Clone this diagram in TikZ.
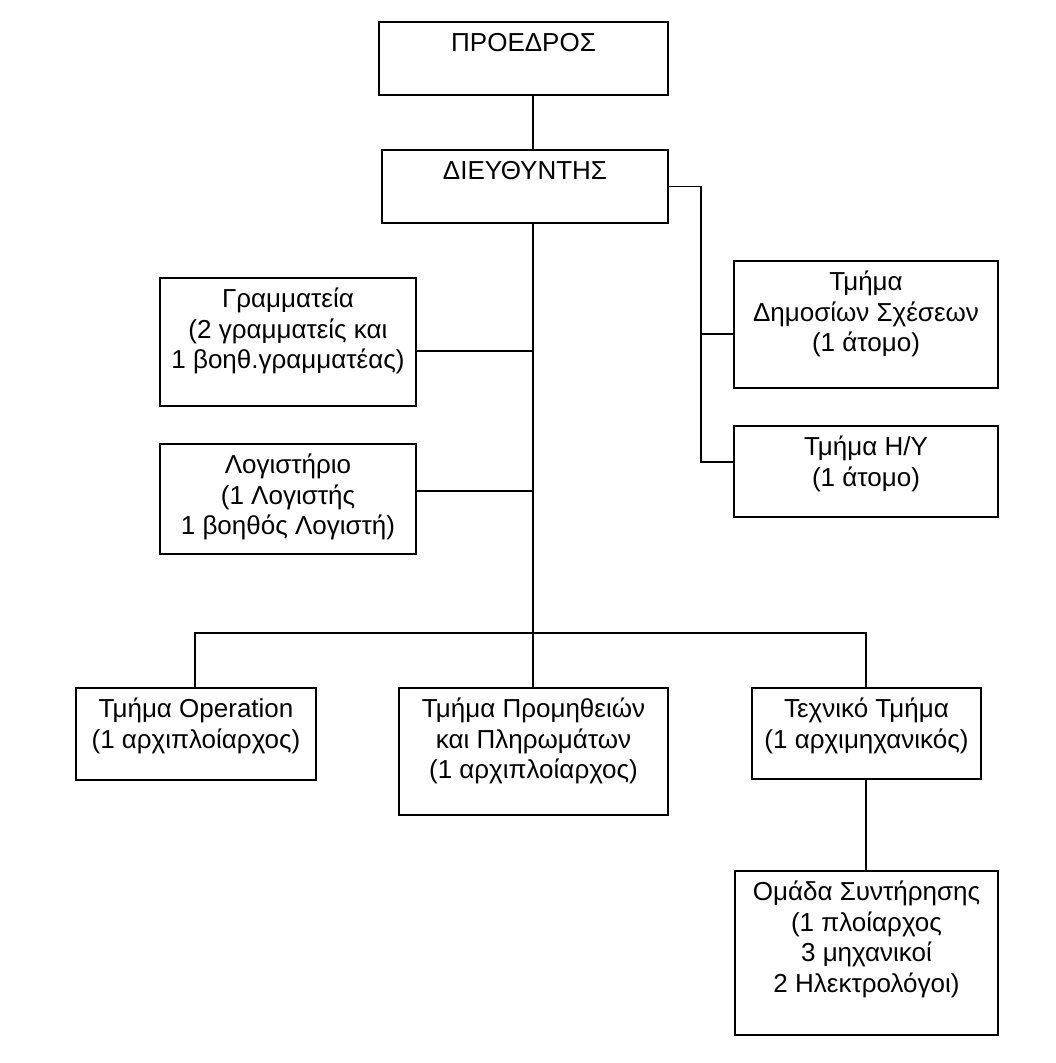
\documentclass[tikz,border=0pt]{standalone}
\usepackage{fontspec}
\setmainfont{Liberation Sans}
\begin{document}
\begin{tikzpicture}[x=1pt,y=-1pt,
  box/.style={draw, line width=1.5pt, inner sep=0pt, outer sep=0pt},
  lbl/.style={anchor=north, inner sep=0pt, align=center, font=\fontsize{26}{30.5}\selectfont, yshift=-8pt},
  conn/.style={line width=1.5pt}]
\useasboundingbox[fill=white] (0,0) rectangle (1056,1063);
% boxes
\node[box, minimum width=289pt, minimum height=73pt] (P) at (523.5,58.5) {};
\node[box, minimum width=286pt, minimum height=73pt] (D) at (525,186.5) {};
\node[box, minimum width=256pt, minimum height=128pt] (G) at (288,342) {};
\node[box, minimum width=256pt, minimum height=110pt] (L) at (288,499) {};
\node[box, minimum width=264pt, minimum height=127pt] (DS) at (866,324.5) {};
\node[box, minimum width=264pt, minimum height=91pt] (HY) at (866,471.5) {};
\node[box, minimum width=240pt, minimum height=92pt] (OP) at (196,734) {};
\node[box, minimum width=269pt, minimum height=127pt] (PR) at (533.5,751.5) {};
\node[box, minimum width=229pt, minimum height=91pt] (T) at (866.5,733.5) {};
\node[box, minimum width=263pt, minimum height=164pt] (OM) at (866.5,953) {};
% labels
\node[lbl] (Pt) at (P.north) {\strut ΠΡΟΕΔΡΟΣ};
\node[lbl] (Dt) at (D.north) {\strut ΔΙΕΥΘΥΝΤΗΣ};
\node[lbl] (Gt) at (G.north) {\strut Γραμματεία\\(2 γραμματείς και\\1 βοηθ.γραμματέας)};
\node[lbl] (Lt) at (L.north) {\strut Λογιστήριο\\(1 Λογιστής\\1 βοηθός Λογιστή)};
\node[lbl] (DSt) at (DS.north) {\strut Τμήμα\\Δημοσίων Σχέσεων\\(1 άτομο)};
\node[lbl] (HYt) at (HY.north) {\strut Τμήμα Η/Υ\\(1 άτομο)};
\node[lbl] (OPt) at (OP.north) {\strut Τμήμα Operation\\(1 αρχιπλοίαρχος)};
\node[lbl] (PRt) at (PR.north) {\strut Τμήμα Προμηθειών\\και Πληρωμάτων\\(1 αρχιπλοίαρχος)};
\node[lbl] (Tt) at (T.north) {\strut Τεχνικό Τμήμα\\(1 αρχιμηχανικός)};
\node[lbl] (OMt) at (OM.north) {\strut Ομάδα Συντήρησης\\(1 πλοίαρχος\\3 μηχανικοί\\2 Ηλεκτρολόγοι)};
% junction coordinates
\coordinate (spine) at (533,0);
\coordinate (rb) at (701,0);
\coordinate (gj) at (533,351);
\coordinate (lj) at (533,491);
\coordinate (dsj) at (701,334);
\coordinate (hyj) at (701,462);
\coordinate (barL) at (195,633);
\coordinate (barR) at (866,633);
% connectors
\draw[conn] (P.south -| spine) -- (D.north -| spine);
\draw[conn] (D.south -| spine) -- (PR.north -| spine);
\draw[conn] (gj) -- (gj -| G.east);
\draw[conn] (lj) -- (lj -| L.east);
\draw[conn] (D.east) -- (D.east -| rb) -- (hyj) -- (hyj -| HY.west);
\draw[conn] (dsj) -- (dsj -| DS.west);
\draw[conn] (OP.north -| barL) -- (barL) -- (barR) -- (T.north -| barR);
\draw[conn] (T.south -| barR) -- (OM.north -| barR);
\end{tikzpicture}
\end{document}
